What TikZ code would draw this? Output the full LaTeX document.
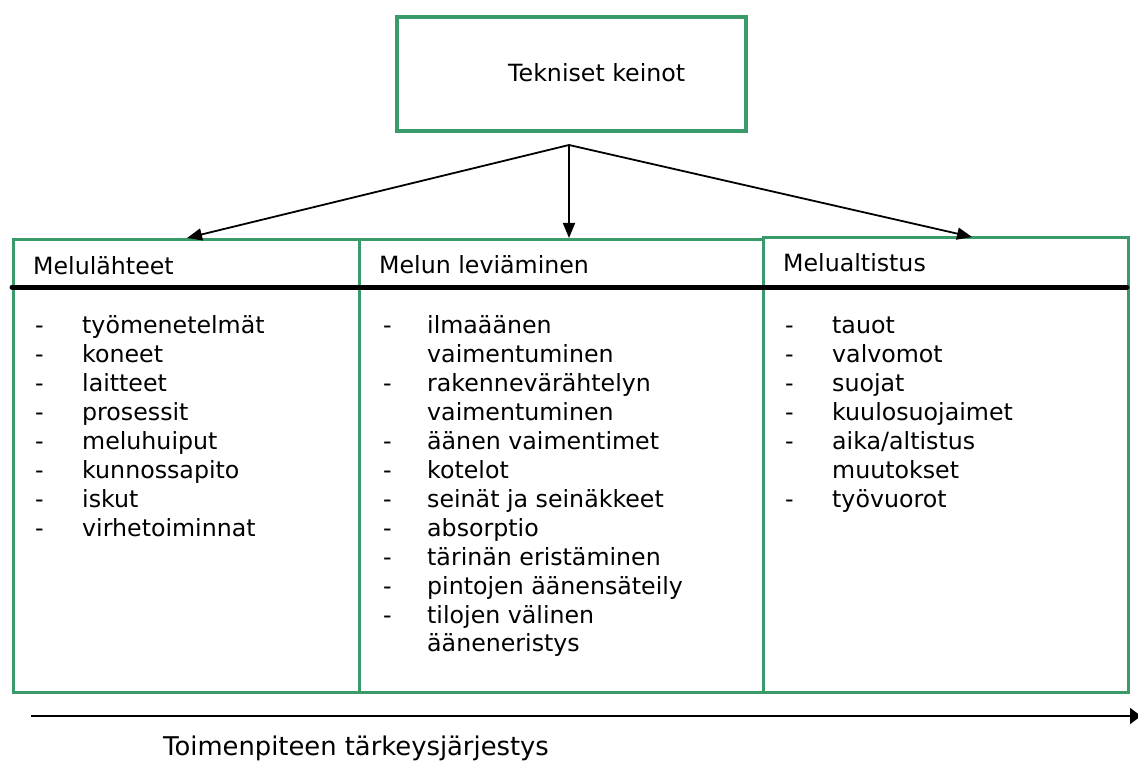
\documentclass[tikz,border=0pt]{standalone}
\usepackage{fontspec}
\setmainfont{DejaVu Sans}
\usetikzlibrary{arrows.meta}
\definecolor{boxgreen}{RGB}{58,155,106}
\begin{document}
\begin{tikzpicture}[x=1pt,y=-1pt,
  frame/.style={draw=boxgreen, line width=3pt, anchor=north west, inner sep=0pt},
  txt/.style={inner sep=0pt, anchor=base west, font=\fontsize{23.7}{29}\selectfont},
  conn/.style={draw=black, line width=1.8pt, -{Triangle[length=15pt,width=12pt]}},
  axis/.style={draw=black, line width=2pt, -{Triangle[length=11pt,width=16pt]}},
  rule/.style={draw=black, line width=5pt, line cap=round}]
\useasboundingbox (0,0) rectangle (1138,762);

% heading box
\node[frame, line width=4pt, minimum width=349pt, minimum height=114pt] (tech) at (395,15) {};
\node[txt] (techlabel) at (508,82) {Tekniset keinot};

% the three columns
\node[frame, minimum width=346pt, minimum height=453pt] (src)  at (12,238)  {};
\node[frame, minimum width=404pt, minimum height=453pt] (path) at (358,238) {};
\node[frame, minimum width=365pt, minimum height=455pt] (exp)  at (762,236) {};

% column headings
\node[txt] (srchead)  at (33,274)  {Melulähteet};
\node[txt] (pathhead) at (379,273) {Melun leviäminen};
\node[txt] (exphead)  at (783,272) {Melualtistus};

% heavy rule under the headings
\coordinate (ruleL) at (12,287);
\coordinate (ruleR) at (1127,287);
\draw[rule] (ruleL) -- (ruleR);

% column contents
\node[txt] (srclist) at (35,333) {\begin{tabular}[t]{@{}p{47pt}@{}l@{}}
- & työmenetelmät\\
- & koneet\\
- & laitteet\\
- & prosessit\\
- & meluhuiput\\
- & kunnossapito\\
- & iskut\\
- & virhetoiminnat
\end{tabular}};

\node[txt] (pathlist) at (383,333) {\begin{tabular}[t]{@{}p{44pt}@{}l@{}}
- & ilmaäänen\\
  & vaimentuminen\\
- & rakennevärähtelyn\\
  & vaimentuminen\\
- & äänen vaimentimet\\
- & kotelot\\
- & seinät ja seinäkkeet\\
- & absorptio\\
- & tärinän eristäminen\\
- & pintojen äänensäteily\\
- & tilojen välinen\\
  & ääneneristys
\end{tabular}};

\node[txt] (explist) at (785,333) {\begin{tabular}[t]{@{}p{47pt}@{}l@{}}
- & tauot\\
- & valvomot\\
- & suojat\\
- & kuulosuojaimet\\
- & aika/altistus\\
  & muutokset\\
- & työvuorot
\end{tabular}};

% branching arrows from the heading box
\coordinate (fork) at (569,145);
\coordinate (srcin)  at (187,238);
\coordinate (pathin) at (569,238);
\coordinate (expin)  at (972,237);
\draw[conn] (fork) -- (srcin);
\draw[conn] (fork) -- (pathin);
\draw[conn] (fork) -- (expin);

% priority axis
\coordinate (axisstart) at (31,716);
\coordinate (axisend)   at (1141,716);
\draw[axis] (axisstart) -- (axisend);
\node[txt, font=\fontsize{25.8}{31}\selectfont] (order) at (163,755) {Toimenpiteen tärkeysjärjestys};
\end{tikzpicture}
\end{document}
